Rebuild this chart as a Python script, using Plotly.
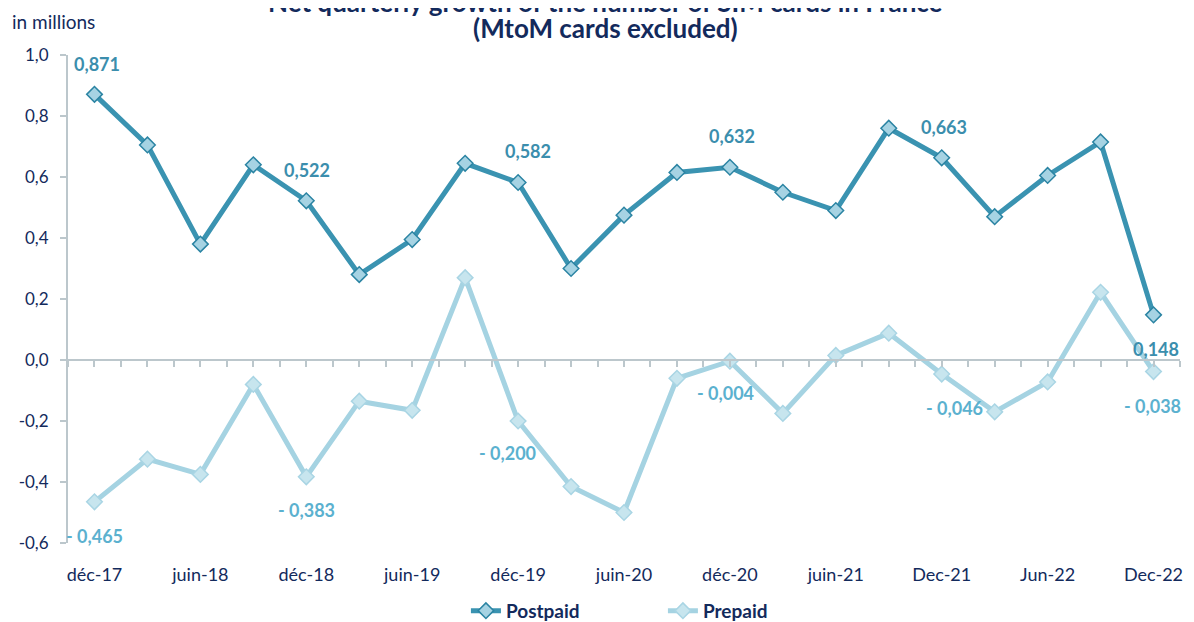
import plotly.graph_objects as go

quarters = ["déc-17", "mars-18", "juin-18", "sept-18", "déc-18", "mars-19", "juin-19", "sept-19",
            "déc-19", "mars-20", "juin-20", "sept-20", "déc-20", "mars-21", "juin-21", "sept-21",
            "Dec-21", "Mar-22", "Jun-22", "Sep-22", "Dec-22"]
tick_labels = ["déc-17", "juin-18", "déc-18", "juin-19", "déc-19", "juin-20", "déc-20",
               "juin-21", "Dec-21", "Jun-22", "Dec-22"]
postpaid = [0.871, 0.705, 0.380, 0.640, 0.522, 0.280, 0.395, 0.645, 0.582, 0.300, 0.475,
            0.615, 0.632, 0.550, 0.490, 0.760, 0.663, 0.470, 0.605, 0.715, 0.148]
prepaid = [-0.465, -0.325, -0.375, -0.080, -0.383, -0.135, -0.165, 0.270, -0.200, -0.415, -0.500,
           -0.060, -0.004, -0.175, 0.015, 0.088, -0.046, -0.170, -0.072, 0.222, -0.038]
label_idx = [0, 4, 8, 12, 16, 20]
# label offsets in pixels (dx, dy) relative to each labelled point
post_offsets = [(3, 30), (1, 31), (10, 31), (2, 31), (2, 31), (2, -34)]
pre_offsets = [(0, -34), (0, -33), (-11, -32), (-4, -32), (13, -34), (-1, -34)]
y_ticks = [1.0, 0.8, 0.6, 0.4, 0.2, 0.0, -0.2, -0.4, -0.6]
y_ticktext = ["1,0", "0,8", "0,6", "0,4", "0,2", "0,0", "-0,2", "-0,4", "-0,6"]
title_line1 = "Net quarterly growth of the number of SIM cards in France"
title_line2 = "(MtoM cards excluded)"

NAVY = "#132A5C"
DARK = "#3A93B1"
LIGHT = "#A5D3E2"
AXIS = "#BCC7CC"
FONT = "Lato, Carlito, Calibri, sans-serif"


def fmt(v):
    s = f"{abs(v):.3f}".replace(".", ",")
    return ("- " + s) if v < 0 else s


x = list(range(len(quarters)))

fig = go.Figure()
fig.add_trace(go.Scatter(
    x=x, y=postpaid, name="Postpaid", mode="lines+markers",
    line=dict(color=DARK, width=5),
    marker=dict(symbol="diamond", size=12, color="#A6D3E3", line=dict(color="#2B84A3", width=1.5)),
    hovertext=quarters,
))
fig.add_trace(go.Scatter(
    x=x, y=prepaid, name="Prepaid", mode="lines+markers",
    line=dict(color=LIGHT, width=5),
    marker=dict(symbol="diamond", size=12, color="#C7E5EE", line=dict(color="#A9D5E4", width=1.5)),
    hovertext=quarters,
))
# dummy trace to draw the zero axis with its tick marks
fig.add_trace(go.Scatter(x=[None], y=[None], xaxis="x2", showlegend=False, hoverinfo="skip"))

annotations = []
for (i, (dx, dy)) in zip(label_idx, post_offsets):
    annotations.append(dict(x=x[i], y=postpaid[i], text=fmt(postpaid[i]), showarrow=False,
                            xshift=dx, yshift=dy, xref="x", yref="y",
                            font=dict(family=FONT, size=18, color="#3B8EAD", weight="bold")))
for (i, (dx, dy)) in zip(label_idx, pre_offsets):
    annotations.append(dict(x=x[i], y=prepaid[i], text=fmt(prepaid[i]), showarrow=False,
                            xshift=dx, yshift=dy, xref="x", yref="y",
                            font=dict(family=FONT, size=18, color="#5BB1CF", weight="bold")))
annotations += [
    dict(text=title_line1, xref="paper", yref="paper", x=0.483, y=1.0553, yshift=26,
         xanchor="center", yanchor="middle",
         showarrow=False, font=dict(family=FONT, size=26, color=NAVY, weight="bold")),
    dict(text=title_line2, xref="paper", yref="paper", x=0.483, y=1.0553,
         xanchor="center", yanchor="middle",
         showarrow=False, font=dict(family=FONT, size=26, color=NAVY, weight="bold")),
    dict(text="in millions", xref="paper", yref="paper", x=-0.052, y=1.040,
         xanchor="left", yanchor="bottom", showarrow=False,
         font=dict(family=FONT, size=19, color=NAVY)),
]

# the page body adds an 8px margin, so the figure is sized to fit the 1194x622 window
fig.update_layout(
    width=1186, height=614,
    paper_bgcolor="white", plot_bgcolor="white",
    margin=dict(l=60, r=14, t=47, b=79, autoexpand=False),
    font=dict(family=FONT, color=NAVY),
    showlegend=True,
    legend=dict(orientation="h", x=0.535, xanchor="center", y=-0.1, yanchor="top",
                font=dict(family=FONT, size=19, color=NAVY, weight="bold"),
                entrywidth=152, itemwidth=30),
    xaxis=dict(range=[-0.5, 20.5], tickvals=x[::2], ticktext=tick_labels, automargin=False,
               showgrid=False, zeroline=False, showline=False,
               ticks="outside", ticklen=15, tickcolor="rgba(0,0,0,0)",
               tickfont=dict(family=FONT, size=18, color=NAVY)),
    xaxis2=dict(overlaying="x", anchor="free", position=0.375, range=[-0.5, 20.5],
                showline=True, linecolor=AXIS, linewidth=2, automargin=False,
                ticks="outside", tick0=-0.5, dtick=0.5, ticklen=6, tickcolor=AXIS, tickwidth=2,
                showticklabels=False, showgrid=False, zeroline=False),
    yaxis=dict(range=[-0.6, 1.0], tickvals=y_ticks, ticktext=y_ticktext, automargin=False,
               showgrid=False, zeroline=False, showline=True, linecolor=AXIS, linewidth=2,
               ticks="outside", ticklen=6, tickcolor=AXIS, tickwidth=2, ticklabelstandoff=8,
               tickfont=dict(family=FONT, size=17, color=NAVY)),
    annotations=annotations,
)

fig.write_html("out.html")
